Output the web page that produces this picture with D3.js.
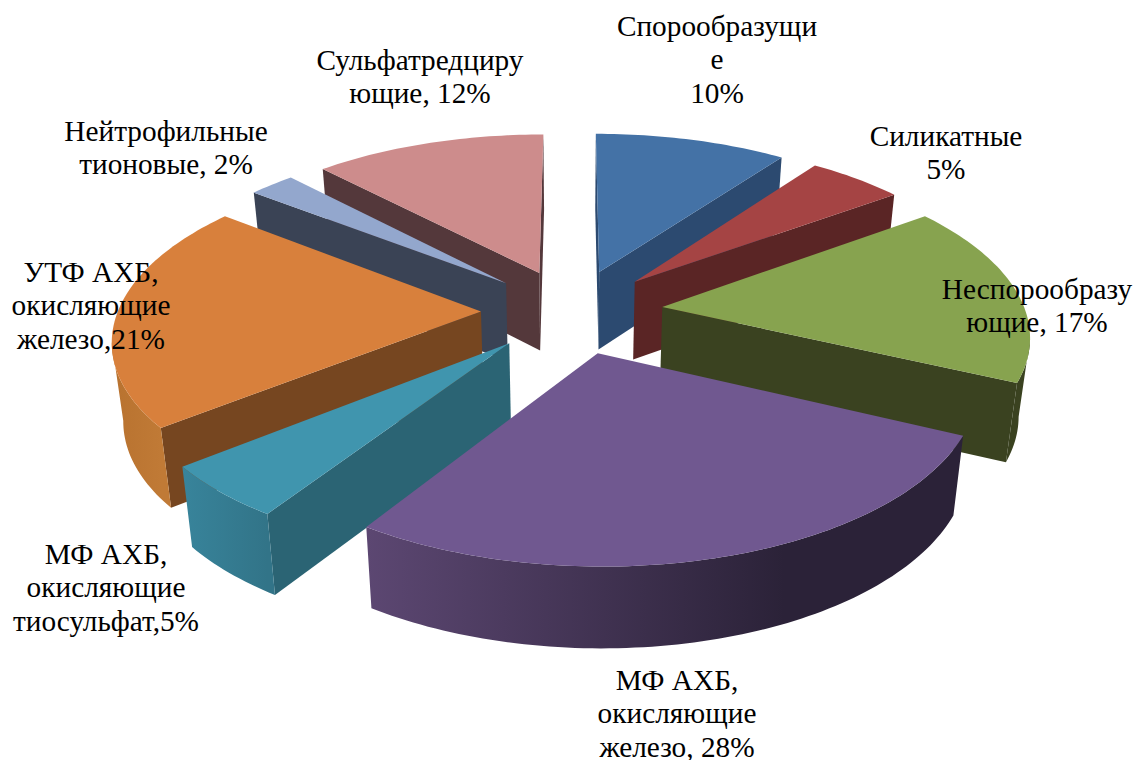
<!DOCTYPE html>
<html>
<head>
<meta charset="utf-8">
<style>
  html, body { margin: 0; padding: 0; background: #fff; overflow: hidden; }
  text { font-family: "Liberation Serif", serif; font-size: 29.3px; fill: #000; text-anchor: middle; }
</style>
<script src="https://cdnjs.cloudflare.com/ajax/libs/d3/7.8.5/d3.min.js"></script>
</head>
<body>
<svg id="chart" width="1134" height="760"></svg>
<script>
const categories = ["Спорообразущие", "Силикатные", "Неспорообразующие", "МФ АХБ, окисляющие железо",
  "МФ АХБ, окисляющие тиосульфат", "УТФ АХБ, окисляющие железо", "Нейтрофильные тионовые", "Сульфатредцирующие"];
// measured from the slice angles, the labels carry the rounded figures
const values = [10, 5, 17, 27.2, 5, 21.3, 2.4, 12.1];
const labelLines = [
  ["Спорообразущи", "е", "10%"],
  ["Силикатные", "5%"],
  ["Неспорообразу", "ющие, 17%"],
  ["МФ АХБ,", "окисляющие", "железо, 28%"],
  ["МФ АХБ,", "окисляющие", "тиосульфат,5%"],
  ["УТФ АХБ,", "окисляющие", "железо,21%"],
  ["Нейтрофильные", "тионовые, 2%"],
  ["Сульфатредциру", "ющие, 12%"]
];
const topColors = ["#4472a6", "#a54444", "#87a34f", "#705890", "#4095ae", "#d8803c", "#93a7cd", "#cd8c8c"];
const wallColors = ["#2c4a70", "#5a2525", "#3a4220", "#2e2339", "#2b6474", "#764620", "#3a4355", "#54383b"];
const outerFrom = ["#2c4a70", "#5a2525", "#3a4220", "#5c4772", "#38849b", "#b8722f", "#3a4355", "#54383b"];
const outerTo = ["#2c4a70", "#5a2525", "#3a4220", "#2b2238", "#327488", "#c07a36", "#3a4355", "#54383b"];

// label anchors, first baseline of each text block
const labelAnchors = [[717, 36], [946, 146], [1037, 299], [677, 690], [106, 564], [91, 282], [166, 141], [420, 70]];

const svg = d3.select("#chart");
const defs = svg.append("defs");

const centerX = 572, centerY = 311;
const radius = 363, explode = 91;
const tilt = 0.465, camera = 2500;
const depth = 78;

// world plane: x to the right, y towards the viewer
function project(x, y) {
  const s = camera / (camera - y);
  return [centerX + x * s, centerY + y * tilt * s];
}
function drop(p) {
  return [centerX + (p[0] - centerX) * 0.975, centerY + (p[1] - centerY) * 1.015 + depth];
}

const line = d3.line();
const pie = d3.pie().sort(null).value(function(d) { return d; });

const slices = pie(values).map(function(d, i) {
  const mid = (d.startAngle + d.endAngle) / 2;
  const ox = explode * Math.sin(mid), oy = -explode * Math.cos(mid);
  const steps = Math.max(4, Math.ceil((d.endAngle - d.startAngle) / 0.02));
  const rim = d3.range(steps + 1).map(function(k) {
    const a = d.startAngle + (d.endAngle - d.startAngle) * k / steps;
    return project(ox + radius * Math.sin(a), oy - radius * Math.cos(a));
  });
  return { index: i, mid: mid, apex: project(ox, oy), rim: rim };
});

// back slices first
slices.sort(function(a, b) { return d3.descending(Math.cos(a.mid), Math.cos(b.mid)); });

slices.forEach(function(s) {
  const g = svg.append("g").attr("class", "slice");
  const i = s.index;
  const first = s.rim[0], last = s.rim[s.rim.length - 1];

  const startWall = [s.apex, first, drop(first), drop(s.apex)];
  const endWall = [s.apex, last, drop(last), drop(s.apex)];
  if (d3.polygonArea(startWall) > 0) {
    g.append("path").attr("d", line(startWall) + "Z").attr("fill", wallColors[i]);
  }
  if (d3.polygonArea(endWall) < 0) {
    g.append("path").attr("d", line(endWall) + "Z").attr("fill", wallColors[i]);
  }

  // outer wall, only the part of the rim turned to the viewer
  const front = s.rim.filter(function(p, k) {
    const next = s.rim[k + 1], prev = s.rim[k - 1];
    return (next && next[0] < p[0]) || (prev && prev[0] > p[0]);
  });
  if (front.length > 1) {
    const xs = d3.extent(front, function(p) { return p[0]; });
    const grad = defs.append("linearGradient")
      .attr("id", "outer" + i)
      .attr("gradientUnits", "userSpaceOnUse")
      .attr("x1", xs[0]).attr("x2", xs[1]).attr("y1", 0).attr("y2", 0);
    grad.append("stop").attr("offset", 0).attr("stop-color", outerFrom[i]);
    grad.append("stop").attr("offset", i === 3 ? 0.7 : 1).attr("stop-color", outerTo[i]);
    const wall = front.concat(front.map(drop).reverse());
    g.append("path").attr("d", line(wall) + "Z").attr("fill", "url(#outer" + i + ")");
  }

  g.append("path")
    .attr("d", line([s.apex].concat(s.rim)) + "Z")
    .attr("fill", topColors[i]);
});

// labels
const lineHeight = 33.3;
labelLines.forEach(function(lines, i) {
  const t = svg.append("text");
  lines.forEach(function(str, k) {
    t.append("tspan")
      .attr("x", labelAnchors[i][0])
      .attr("y", labelAnchors[i][1] + k * lineHeight)
      .text(str);
  });
});
</script>
</body>
</html>
